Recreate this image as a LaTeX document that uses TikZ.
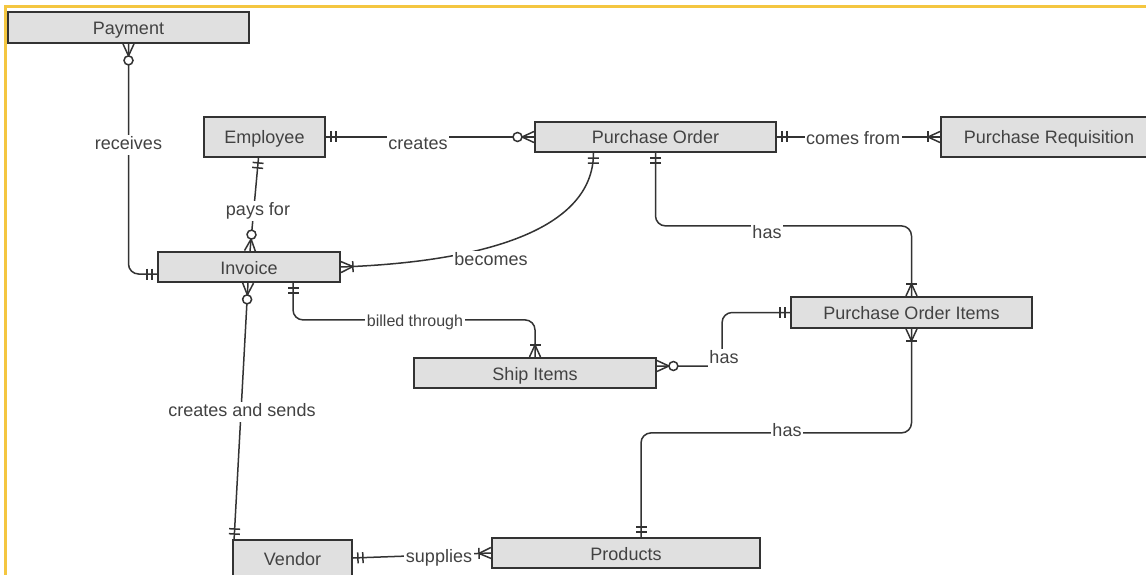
\documentclass[tikz,border=0pt]{standalone}
\usepackage{fontspec}
\setmainfont{Liberation Sans}
\usetikzlibrary{calc,decorations.markings}

\definecolor{framec}{RGB}{244,198,64}
\definecolor{boxfill}{RGB}{224,224,224}
\definecolor{inkc}{RGB}{51,51,51}
\definecolor{txtc}{RGB}{66,66,66}

% Crow's-foot end symbols, drawn in the local frame of the path end:
% the entity edge lies at x=0, the connector comes in from x<0.
\newcommand\mkOne{\draw[tipline] (-5,-5.5) -- (-5,5.5) (-10,-5.5) -- (-10,5.5);}
\newcommand\mkMany{\draw[tipline] (0,-5.5) -- (-12,0) -- (0,5.5);}
\newcommand\mkOneMany{\mkMany\draw[tipline] (-12,-5.5) -- (-12,5.5);}
\newcommand\mkZeroMany{\mkMany\draw[tipline,fill=white] (-16.5,0) circle[radius=4.5pt];}

\tikzset{
  entity/.style={draw=inkc, line width=1.8pt, fill=boxfill, text=txtc,
    font=\fontsize{18}{21}\selectfont, minimum height=30pt, inner sep=0pt,
    text height=14pt, text depth=0pt},
  rel/.style={draw=inkc, line width=1.5pt, rounded corners=10pt},
  tipline/.style={draw=inkc, line width=1.5pt, sharp corners},
  lbl/.style={fill=white, text=txtc, font=\fontsize{18}{21}\selectfont,
    inner sep=1.5pt, text height=13pt, text depth=4pt},
  tip at end/.style={postaction={decorate,decoration={markings,
    mark=at position 0.9995 with {#1}}}},
  tip at start/.style={postaction={decorate,decoration={markings,
    mark=at position 0 with {\begin{scope}[xscale=-1]#1\end{scope}}}}},
}

\begin{document}
\begin{tikzpicture}[x=1pt,y=-1pt]
\useasboundingbox (0,0) rectangle (1146,575);
\clip (0,0) rectangle (1146,575);

% frame
\draw[framec, line width=3pt] (5,580) -- (5,7) -- (1150,7);

% entities
\node[entity, minimum width=241pt, minimum height=31pt] (pay) at (128.5,27.5) {Payment};
\node[entity, minimum width=121pt, minimum height=40pt] (emp) at (264.5,137) {Employee};
\node[entity, minimum width=241pt] (po) at (655.5,137) {Purchase Order};
\node[entity, minimum width=216pt, minimum height=40pt] (pr) at (1049,137) {Purchase Requisition};
\node[entity, minimum width=182pt] (inv) at (249,267) {Invoice};
\node[entity, minimum width=241pt, minimum height=31pt] (poi) at (911.5,312.5) {Purchase Order Items};
\node[entity, minimum width=242pt] (ship) at (535,373) {Ship Items};
\node[entity, minimum width=119pt, minimum height=36pt] (ven) at (292.5,558) {Vendor};
\node[entity, minimum width=268pt] (prod) at (626,553) {Products};

% relationships
\draw[rel, tip at start=\mkZeroMany, tip at end=\mkOne]
  (pay.south) |- ($(inv.west)+(0,7)$);
\draw[rel, tip at start=\mkOne, tip at end=\mkZeroMany] (emp.east) -- (po.west);
\draw[rel, tip at start=\mkOne, tip at end=\mkOneMany] (po.east) -- (pr.west);
\draw[rel, tip at start=\mkOne, tip at end=\mkZeroMany]
  ($(emp.south)+(-6,0)$) -- ($(inv.north)+(1,0)$);
\draw[rel, tip at start=\mkOneMany, tip at end=\mkOne]
  (inv.east) .. controls +(140,-5) and +(0,78) .. ($(po.south)+(-62,0)$);
\draw[rel, tip at start=\mkOne, tip at end=\mkOneMany]
  (po.south) -- ++(0,73) -| (poi.north);
\draw[rel, tip at start=\mkOne, tip at end=\mkOneMany]
  ($(inv.south)+(44,0)$) -- ++(0,37) -| (ship.north);
\draw[rel, tip at start=\mkZeroMany, tip at end=\mkOne]
  ($(ship.east)+(0,-7)$) -| ($(poi.west)+(-68,0)$) -- (poi.west);
\draw[rel, tip at start=\mkOneMany, tip at end=\mkOne]
  (poi.south) -- ++(0,104) -| ($(prod.north)+(15,0)$);
\draw[rel, tip at start=\mkZeroMany, tip at end=\mkOne]
  ($(inv.south)+(-1,0)$) -- ($(ven.north west)+(2,0)$);
\draw[rel, tip at start=\mkOne, tip at end=\mkOneMany] (ven.east) -- (prod.west);

% relationship labels
\node[lbl] (lReceives) at (128.5,145) {receives};
\node[lbl] (lCreates) at (418,145) {creates};
\node[lbl] (lComes) at (853,140) {comes from};
\node[lbl] (lPays) at (258,211) {pays for};
\node[lbl] (lBecomes) at (491,261) {becomes};
\node[lbl] (lHasA) at (767,234) {has};
\node[lbl, font=\fontsize{16}{19}\selectfont, text height=11.5pt, text depth=3.5pt] (lBilled) at (415,322) {billed through};
\node[lbl] (lHasB) at (724,359) {has};
\node[lbl] (lHasC) at (787,432) {has};
\node[lbl] (lSends) at (242,412) {creates and sends};
\node[lbl] (lSupplies) at (439,558) {supplies};
\end{tikzpicture}
\end{document}
